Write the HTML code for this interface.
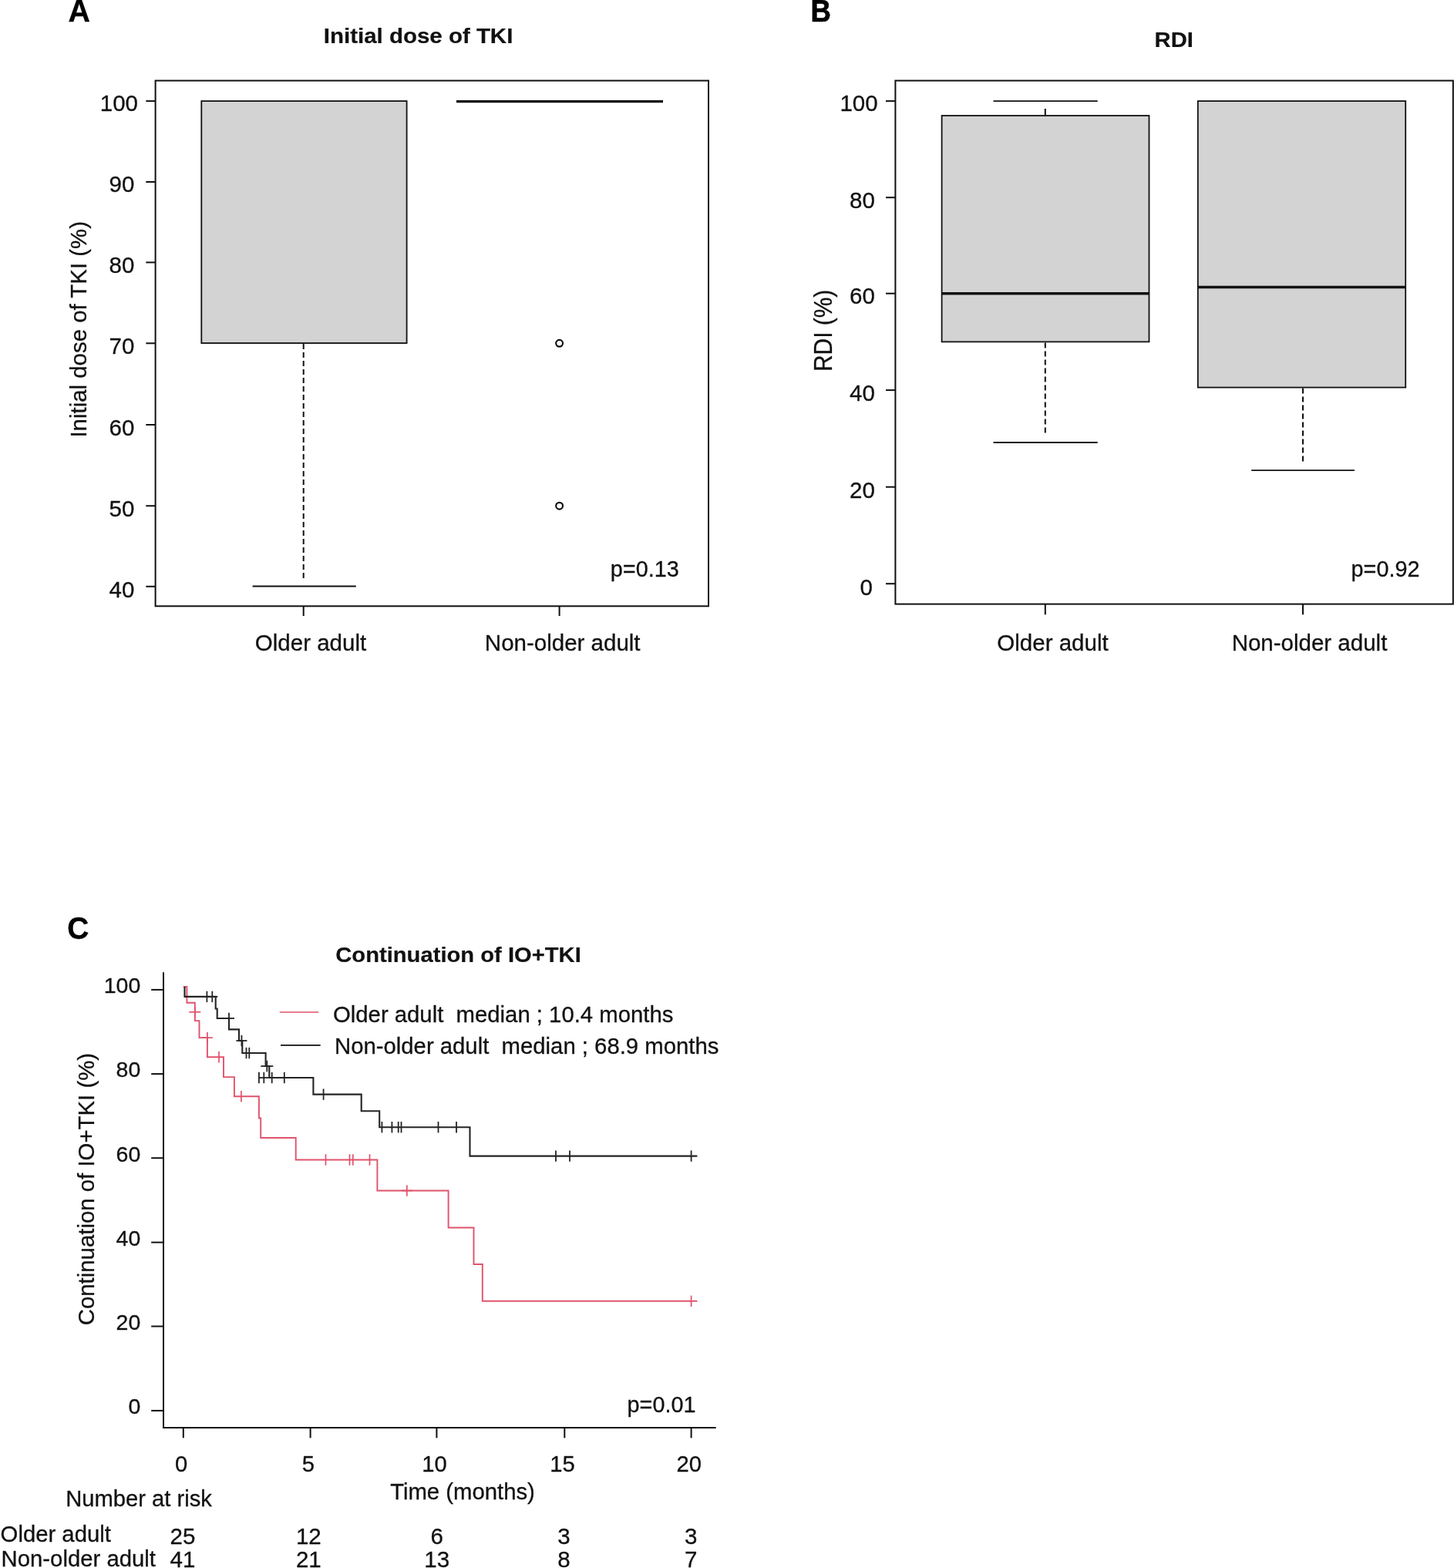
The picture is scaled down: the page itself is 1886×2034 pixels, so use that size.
<!DOCTYPE html>
<html lang="en"><head><meta charset="utf-8"><title>Figure</title>
<style>
html,body{margin:0;padding:0;background:#fff;}
body{width:1886px;height:2034px;overflow:hidden;}
svg{display:block;font-family:"Liberation Sans",Arial,Helvetica,sans-serif;}
</style></head><body>
<svg width="1886" height="2034" viewBox="0 0 1886 2034">
<rect x="0" y="0" width="1886" height="2034" fill="#ffffff"/>
<text x="88.5" y="27.9" text-anchor="start" font-size="40" font-weight="bold" textLength="28.4541875" lengthAdjust="spacingAndGlyphs" fill="#000" stroke="#000" stroke-width="0.3" >A</text>
<text x="542.6" y="56.1" text-anchor="middle" font-size="27.9" font-weight="bold" textLength="245.5" lengthAdjust="spacingAndGlyphs" fill="#111" stroke="#111" stroke-width="0.2" >Initial dose of TKI</text>
<rect x="201.6" y="104.6" width="717.4" height="681.7" fill="none" stroke="#101010" stroke-width="2"/>
<line x1="189.3" y1="131.1" x2="201.6" y2="131.1" stroke="#101010" stroke-width="2" />
<text x="154.4" y="144.40015873015872" text-anchor="middle" font-size="29.5" fill="#111" stroke="#111" stroke-width="0.3" >100</text>
<line x1="189.3" y1="236.0" x2="201.6" y2="236.0" stroke="#101010" stroke-width="2" />
<text x="158.0" y="249.46666666666667" text-anchor="middle" font-size="29.5" fill="#111" stroke="#111" stroke-width="0.3" >90</text>
<line x1="189.3" y1="340.4" x2="201.6" y2="340.4" stroke="#101010" stroke-width="2" />
<text x="158.0" y="354.03238095238095" text-anchor="middle" font-size="29.5" fill="#111" stroke="#111" stroke-width="0.3" >80</text>
<line x1="189.3" y1="445.3" x2="201.6" y2="445.3" stroke="#101010" stroke-width="2" />
<text x="158.0" y="459.0988888888889" text-anchor="middle" font-size="29.5" fill="#111" stroke="#111" stroke-width="0.3" >70</text>
<line x1="189.3" y1="551.0" x2="201.6" y2="551.0" stroke="#101010" stroke-width="2" />
<text x="158.0" y="564.9666666666666" text-anchor="middle" font-size="29.5" fill="#111" stroke="#111" stroke-width="0.3" >60</text>
<line x1="189.3" y1="656.2" x2="201.6" y2="656.2" stroke="#101010" stroke-width="2" />
<text x="158.0" y="670.3336507936508" text-anchor="middle" font-size="29.5" fill="#111" stroke="#111" stroke-width="0.3" >50</text>
<line x1="189.3" y1="760.8" x2="201.6" y2="760.8" stroke="#101010" stroke-width="2" />
<text x="158.0" y="775.0996825396825" text-anchor="middle" font-size="29.5" fill="#111" stroke="#111" stroke-width="0.3" >40</text>
<text x="111.9" y="427.3" text-anchor="middle" font-size="30" transform="rotate(-90 111.9 427.3)" textLength="280.51045312499997" lengthAdjust="spacingAndGlyphs" fill="#111" stroke="#111" stroke-width="0.3" >Initial dose of TKI (%)</text>
<rect x="261.3" y="131.1" width="266.3" height="314" fill="#d3d3d3" stroke="#101010" stroke-width="1.8"/>
<line x1="393.7" y1="446" x2="393.7" y2="750" stroke="#101010" stroke-width="2" stroke-dasharray="7 4"/>
<line x1="327.6" y1="760.5" x2="461.8" y2="760.5" stroke="#101010" stroke-width="1.8" />
<line x1="592" y1="131.6" x2="860" y2="131.6" stroke="#111" stroke-width="3.2" />
<circle cx="725.6" cy="445.3" r="4.4" fill="none" stroke="#101010" stroke-width="2.2"/>
<circle cx="725.6" cy="656.2" r="4.4" fill="none" stroke="#101010" stroke-width="2.2"/>
<line x1="393.7" y1="786.3" x2="393.7" y2="799" stroke="#101010" stroke-width="2" />
<line x1="725.6" y1="786.3" x2="725.6" y2="799" stroke="#101010" stroke-width="2" />
<text x="403" y="843.5" text-anchor="middle" font-size="29.5" fill="#111" stroke="#111" stroke-width="0.3" >Older adult</text>
<text x="729.7" y="843.5" text-anchor="middle" font-size="29.5" fill="#111" stroke="#111" stroke-width="0.3" >Non-older adult</text>
<text x="836.3" y="748.0" text-anchor="middle" font-size="28.8" fill="#111" stroke="#111" stroke-width="0.3" >p=0.13</text>
<text x="1051.5" y="27.9" text-anchor="start" font-size="40" font-weight="bold" textLength="26.403175" lengthAdjust="spacingAndGlyphs" fill="#000" stroke="#000" stroke-width="0.7" >B</text>
<text x="1522.7" y="61.0" text-anchor="middle" font-size="27.9" font-weight="bold" textLength="50.3" lengthAdjust="spacingAndGlyphs" fill="#111" stroke="#111" stroke-width="0.2" >RDI</text>
<rect x="1161.4" y="104.6" width="723.4" height="679.0" fill="none" stroke="#101010" stroke-width="2"/>
<line x1="1149.0" y1="131.1" x2="1161.4" y2="131.1" stroke="#101010" stroke-width="2" />
<text x="1114.0" y="144.3002396166134" text-anchor="middle" font-size="29.5" fill="#111" stroke="#111" stroke-width="0.3" >100</text>
<line x1="1149.0" y1="256.2" x2="1161.4" y2="256.2" stroke="#101010" stroke-width="2" />
<text x="1118.5" y="269.7" text-anchor="middle" font-size="29.5" fill="#111" stroke="#111" stroke-width="0.3" >80</text>
<line x1="1149.0" y1="380.7" x2="1161.4" y2="380.7" stroke="#101010" stroke-width="2" />
<text x="1118.5" y="394.498322683706" text-anchor="middle" font-size="29.5" fill="#111" stroke="#111" stroke-width="0.3" >60</text>
<line x1="1149.0" y1="506.1" x2="1161.4" y2="506.1" stroke="#101010" stroke-width="2" />
<text x="1118.5" y="520.198801916933" text-anchor="middle" font-size="29.5" fill="#111" stroke="#111" stroke-width="0.3" >40</text>
<line x1="1149.0" y1="631.7" x2="1161.4" y2="631.7" stroke="#101010" stroke-width="2" />
<text x="1118.5" y="646.0997603833866" text-anchor="middle" font-size="29.5" fill="#111" stroke="#111" stroke-width="0.3" >20</text>
<line x1="1149.0" y1="757.2" x2="1161.4" y2="757.2" stroke="#101010" stroke-width="2" />
<text x="1123.6" y="771.900479233227" text-anchor="middle" font-size="29.5" fill="#111" stroke="#111" stroke-width="0.3" >0</text>
<text x="1078.9" y="428.9" text-anchor="middle" font-size="32.8" transform="rotate(-90 1078.9 428.9)" textLength="106.3" lengthAdjust="spacingAndGlyphs" fill="#111" stroke="#111" stroke-width="0.3" >RDI (%)</text>
<rect x="1221.6" y="150" width="268.9" height="293.4" fill="#d3d3d3" stroke="#101010" stroke-width="1.8"/>
<line x1="1221.6" y1="380.7" x2="1490.5" y2="380.7" stroke="#111" stroke-width="3.4" />
<line x1="1288.5" y1="131.1" x2="1423.7" y2="131.1" stroke="#101010" stroke-width="1.8" />
<line x1="1355.8" y1="141" x2="1355.8" y2="149.5" stroke="#101010" stroke-width="2" />
<line x1="1355.8" y1="444.5" x2="1355.8" y2="565" stroke="#101010" stroke-width="2" stroke-dasharray="7 4"/>
<line x1="1288.5" y1="574" x2="1423.7" y2="574" stroke="#101010" stroke-width="1.8" />
<rect x="1553.8" y="131.1" width="269.4" height="371.5" fill="#d3d3d3" stroke="#101010" stroke-width="1.8"/>
<line x1="1553.8" y1="372.5" x2="1823.2" y2="372.5" stroke="#111" stroke-width="3.4" />
<line x1="1690" y1="503.6" x2="1690" y2="601" stroke="#101010" stroke-width="2" stroke-dasharray="7 4"/>
<line x1="1623.2" y1="610.2" x2="1756.9" y2="610.2" stroke="#101010" stroke-width="1.8" />
<line x1="1355.8" y1="783.6" x2="1355.8" y2="797.3" stroke="#101010" stroke-width="2" />
<line x1="1690" y1="783.6" x2="1690" y2="797.3" stroke="#101010" stroke-width="2" />
<text x="1365.5" y="843.6" text-anchor="middle" font-size="29.5" fill="#111" stroke="#111" stroke-width="0.3" >Older adult</text>
<text x="1698.5" y="843.6" text-anchor="middle" font-size="29.5" fill="#111" stroke="#111" stroke-width="0.3" >Non-older adult</text>
<text x="1797" y="748.0" text-anchor="middle" font-size="28.8" fill="#111" stroke="#111" stroke-width="0.3" >p=0.92</text>
<text x="87.2" y="1217.6" text-anchor="start" font-size="40" font-weight="bold" textLength="28.1075375" lengthAdjust="spacingAndGlyphs" fill="#000" stroke="#000" stroke-width="0.3" >C</text>
<text x="594.5" y="1248" text-anchor="middle" font-size="27.9" font-weight="bold" textLength="318.5" lengthAdjust="spacingAndGlyphs" fill="#111" stroke="#111" stroke-width="0.2" >Continuation of IO+TKI</text>
<line x1="212" y1="1261.2" x2="212" y2="1853" stroke="#101010" stroke-width="2" />
<line x1="211" y1="1852.1" x2="928.7" y2="1852.1" stroke="#101010" stroke-width="2" />
<line x1="196.2" y1="1283.9" x2="212" y2="1283.9" stroke="#101010" stroke-width="2" />
<text x="182.3" y="1288.2" text-anchor="end" font-size="28.5" fill="#111" stroke="#111" stroke-width="0.3" >100</text>
<line x1="196.2" y1="1393.1" x2="212" y2="1393.1" stroke="#101010" stroke-width="2" />
<text x="182.3" y="1397.3999999999999" text-anchor="end" font-size="28.5" fill="#111" stroke="#111" stroke-width="0.3" >80</text>
<line x1="196.2" y1="1502.2" x2="212" y2="1502.2" stroke="#101010" stroke-width="2" />
<text x="182.3" y="1506.5" text-anchor="end" font-size="28.5" fill="#111" stroke="#111" stroke-width="0.3" >60</text>
<line x1="196.2" y1="1611.6" x2="212" y2="1611.6" stroke="#101010" stroke-width="2" />
<text x="182.3" y="1615.8999999999999" text-anchor="end" font-size="28.5" fill="#111" stroke="#111" stroke-width="0.3" >40</text>
<line x1="196.2" y1="1720.5" x2="212" y2="1720.5" stroke="#101010" stroke-width="2" />
<text x="182.3" y="1724.8" text-anchor="end" font-size="28.5" fill="#111" stroke="#111" stroke-width="0.3" >20</text>
<line x1="196.2" y1="1829.9" x2="212" y2="1829.9" stroke="#101010" stroke-width="2" />
<text x="182.3" y="1834.2" text-anchor="end" font-size="28.5" fill="#111" stroke="#111" stroke-width="0.3" >0</text>
<line x1="237.8" y1="1852.1" x2="237.8" y2="1865.3" stroke="#101010" stroke-width="2" />
<text x="235.0" y="1909.3" text-anchor="middle" font-size="29.2" fill="#111" stroke="#111" stroke-width="0.3" >0</text>
<line x1="402.6" y1="1852.1" x2="402.6" y2="1865.3" stroke="#101010" stroke-width="2" />
<text x="399.8" y="1909.3" text-anchor="middle" font-size="29.2" fill="#111" stroke="#111" stroke-width="0.3" >5</text>
<line x1="566.4" y1="1852.1" x2="566.4" y2="1865.3" stroke="#101010" stroke-width="2" />
<text x="563.6" y="1909.3" text-anchor="middle" font-size="29.2" fill="#111" stroke="#111" stroke-width="0.3" >10</text>
<line x1="732.3" y1="1852.1" x2="732.3" y2="1865.3" stroke="#101010" stroke-width="2" />
<text x="729.5" y="1909.3" text-anchor="middle" font-size="29.2" fill="#111" stroke="#111" stroke-width="0.3" >15</text>
<line x1="896.6" y1="1852.1" x2="896.6" y2="1865.3" stroke="#101010" stroke-width="2" />
<text x="893.8000000000001" y="1909.3" text-anchor="middle" font-size="29.2" fill="#111" stroke="#111" stroke-width="0.3" >20</text>
<text x="122.3" y="1542.6" text-anchor="middle" font-size="30.3" transform="rotate(-90 122.3 1542.6)" textLength="353.41976484375004" lengthAdjust="spacingAndGlyphs" fill="#111" stroke="#111" stroke-width="0.3" >Continuation of IO+TKI (%)</text>
<text x="600" y="1945.4" text-anchor="middle" font-size="29.3" fill="#111" stroke="#111" stroke-width="0.3" >Time (months)</text>
<text x="858" y="1832.2" text-anchor="middle" font-size="28.8" fill="#111" stroke="#111" stroke-width="0.3" >p=0.01</text>
<line x1="362.8" y1="1313.0" x2="413.2" y2="1313.0" stroke="#DF536B" stroke-width="1.7" />
<line x1="364.0" y1="1355.9" x2="415.7" y2="1355.9" stroke="#101010" stroke-width="1.9" />
<text x="432" y="1326" text-anchor="start" font-size="29.3" fill="#111" stroke="#111" stroke-width="0.3" xml:space="preserve" style="white-space:pre">Older adult  median ; 10.4 months</text>
<text x="434" y="1366.9" text-anchor="start" font-size="29.3" fill="#111" stroke="#111" stroke-width="0.3" xml:space="preserve" style="white-space:pre">Non-older adult  median ; 68.9 months</text>
<path d="M237.7,1279.9 L242.4,1279.9 L242.4,1300.7 L252.8,1300.7 L252.8,1324.1 L258.5,1324.1 L258.5,1346.1 L268.9,1346.1 L268.9,1371.3 L290,1371.3 L290,1397.1 L303.9,1397.1 L303.9,1422.3 L335.9,1422.3 L335.9,1450.5 L338.2,1450.5 L338.2,1476 L383.7,1476 L383.7,1504.5 L489.4,1504.5 L489.4,1544.5 L581.6,1544.5 L581.6,1592.5 L614.5,1592.5 L614.5,1640 L625.8,1640 L625.8,1687.8 L904.4,1687.8" fill="none" stroke="#DF536B" stroke-width="1.9" stroke-linejoin="miter"/>
<path d="M239.5,1279.9 L239.5,1292.9 L279.7,1292.9 L279.7,1308.5 L281.7,1308.5 L281.7,1321 L297,1321 L297,1335.4 L310,1335.4 L310,1350 L314.3,1350 L314.3,1366 L344.6,1366 L344.6,1383 L349.3,1383 L349.3,1398 L406.4,1398 L406.4,1419.6 L468.7,1419.6 L468.7,1441.2 L492.2,1441.2 L492.2,1462.2 L609.5,1462.2 L609.5,1499.6 L904.4,1499.6" fill="none" stroke="#242424" stroke-width="2.1" stroke-linejoin="miter"/>
<line x1="252.8" y1="1305.6" x2="252.8" y2="1320.0" stroke="#DF536B" stroke-width="1.7" />
<line x1="245.3" y1="1312.8" x2="260.3" y2="1312.8" stroke="#DF536B" stroke-width="1.7" />
<line x1="268.9" y1="1338.8999999999999" x2="268.9" y2="1353.3" stroke="#DF536B" stroke-width="1.7" />
<line x1="261.9" y1="1346.1" x2="275.9" y2="1346.1" stroke="#DF536B" stroke-width="1.7" />
<line x1="284" y1="1364.1" x2="284" y2="1378.5" stroke="#DF536B" stroke-width="1.7" />
<line x1="312.9" y1="1415.1" x2="312.9" y2="1429.5" stroke="#DF536B" stroke-width="1.7" />
<line x1="422.5" y1="1497.3" x2="422.5" y2="1511.7" stroke="#DF536B" stroke-width="1.7" />
<line x1="453.5" y1="1497.3" x2="453.5" y2="1511.7" stroke="#DF536B" stroke-width="1.7" />
<line x1="457.8" y1="1497.3" x2="457.8" y2="1511.7" stroke="#DF536B" stroke-width="1.7" />
<line x1="479.5" y1="1497.3" x2="479.5" y2="1511.7" stroke="#DF536B" stroke-width="1.7" />
<line x1="527.8" y1="1537.3" x2="527.8" y2="1551.7" stroke="#DF536B" stroke-width="1.7" />
<line x1="520.8" y1="1544.5" x2="534.8" y2="1544.5" stroke="#DF536B" stroke-width="1.7" />
<line x1="896.6" y1="1680.6" x2="896.6" y2="1695.0" stroke="#DF536B" stroke-width="1.7" />
<line x1="268.4" y1="1285.7" x2="268.4" y2="1300.1000000000001" stroke="#242424" stroke-width="1.8" />
<line x1="275.3" y1="1285.7" x2="275.3" y2="1300.1000000000001" stroke="#242424" stroke-width="1.8" />
<line x1="268.3" y1="1292.9" x2="282.3" y2="1292.9" stroke="#242424" stroke-width="1.8" />
<line x1="297" y1="1313.8" x2="297" y2="1328.2" stroke="#242424" stroke-width="1.8" />
<line x1="290" y1="1321" x2="304" y2="1321" stroke="#242424" stroke-width="1.8" />
<line x1="313.4" y1="1342.8" x2="313.4" y2="1357.2" stroke="#242424" stroke-width="1.8" />
<line x1="306.4" y1="1350" x2="320.4" y2="1350" stroke="#242424" stroke-width="1.8" />
<line x1="319.5" y1="1358.8" x2="319.5" y2="1373.2" stroke="#242424" stroke-width="1.8" />
<line x1="323.3" y1="1358.8" x2="323.3" y2="1373.2" stroke="#242424" stroke-width="1.8" />
<line x1="346.3" y1="1375.8" x2="346.3" y2="1390.2" stroke="#242424" stroke-width="1.8" />
<line x1="338.3" y1="1383" x2="354.3" y2="1383" stroke="#242424" stroke-width="1.8" />
<line x1="335.9" y1="1390.8" x2="335.9" y2="1405.2" stroke="#242424" stroke-width="1.8" />
<line x1="342.3" y1="1390.8" x2="342.3" y2="1405.2" stroke="#242424" stroke-width="1.8" />
<line x1="335.3" y1="1398" x2="349.3" y2="1398" stroke="#242424" stroke-width="1.8" />
<line x1="352.7" y1="1390.8" x2="352.7" y2="1405.2" stroke="#242424" stroke-width="1.8" />
<line x1="368.8" y1="1390.8" x2="368.8" y2="1405.2" stroke="#242424" stroke-width="1.8" />
<line x1="419.6" y1="1412.3999999999999" x2="419.6" y2="1426.8" stroke="#242424" stroke-width="1.8" />
<line x1="495.4" y1="1455.0" x2="495.4" y2="1469.4" stroke="#242424" stroke-width="1.8" />
<line x1="508.4" y1="1455.0" x2="508.4" y2="1469.4" stroke="#242424" stroke-width="1.8" />
<line x1="516.7" y1="1455.0" x2="516.7" y2="1469.4" stroke="#242424" stroke-width="1.8" />
<line x1="520.5" y1="1455.0" x2="520.5" y2="1469.4" stroke="#242424" stroke-width="1.8" />
<line x1="568.5" y1="1455.0" x2="568.5" y2="1469.4" stroke="#242424" stroke-width="1.8" />
<line x1="592" y1="1455.0" x2="592" y2="1469.4" stroke="#242424" stroke-width="1.8" />
<line x1="721" y1="1492.3999999999999" x2="721" y2="1506.8" stroke="#242424" stroke-width="1.8" />
<line x1="739" y1="1492.3999999999999" x2="739" y2="1506.8" stroke="#242424" stroke-width="1.8" />
<line x1="896.6" y1="1492.3999999999999" x2="896.6" y2="1506.8" stroke="#242424" stroke-width="1.8" />
<text x="85.2" y="1953.5" text-anchor="start" font-size="29.2" fill="#111" stroke="#111" stroke-width="0.3" >Number at risk</text>
<text x="0.6" y="2000.3" text-anchor="start" font-size="29.3" fill="#111" stroke="#111" stroke-width="0.3" >Older adult</text>
<text x="1.6" y="2032.2" text-anchor="start" font-size="29.3" fill="#111" stroke="#111" stroke-width="0.3" >Non-older adult</text>
<text x="237" y="2002.6" text-anchor="middle" font-size="29.5" fill="#111" stroke="#111" stroke-width="0.3" >25</text>
<text x="237" y="2032.6" text-anchor="middle" font-size="29.5" fill="#111" stroke="#111" stroke-width="0.3" >41</text>
<text x="400.3" y="2002.6" text-anchor="middle" font-size="29.5" fill="#111" stroke="#111" stroke-width="0.3" >12</text>
<text x="400.3" y="2032.6" text-anchor="middle" font-size="29.5" fill="#111" stroke="#111" stroke-width="0.3" >21</text>
<text x="566.7" y="2002.6" text-anchor="middle" font-size="29.5" fill="#111" stroke="#111" stroke-width="0.3" >6</text>
<text x="566.7" y="2032.6" text-anchor="middle" font-size="29.5" fill="#111" stroke="#111" stroke-width="0.3" >13</text>
<text x="731.5" y="2002.6" text-anchor="middle" font-size="29.5" fill="#111" stroke="#111" stroke-width="0.3" >3</text>
<text x="731.5" y="2032.6" text-anchor="middle" font-size="29.5" fill="#111" stroke="#111" stroke-width="0.3" >8</text>
<text x="896.1" y="2002.6" text-anchor="middle" font-size="29.5" fill="#111" stroke="#111" stroke-width="0.3" >3</text>
<text x="896.1" y="2032.6" text-anchor="middle" font-size="29.5" fill="#111" stroke="#111" stroke-width="0.3" >7</text>
</svg>
</body></html>
